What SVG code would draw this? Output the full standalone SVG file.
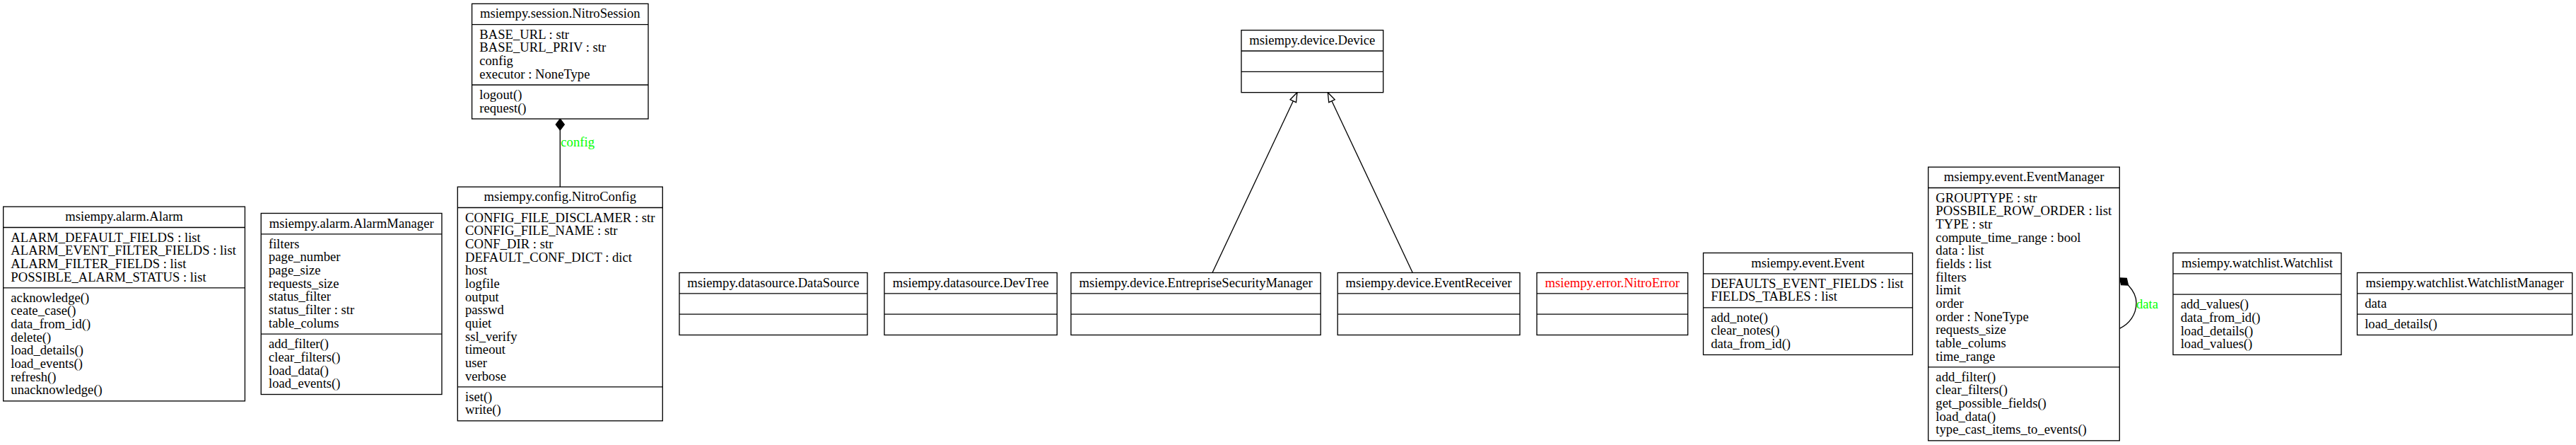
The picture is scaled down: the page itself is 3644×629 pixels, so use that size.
<svg xmlns="http://www.w3.org/2000/svg" width="3644" height="629" viewBox="0 0 3644 629">
<style>
.bg{fill:#ffffff}
.box{fill:#ffffff;stroke:#000000;stroke-width:1.33}
.div{stroke:#000000;stroke-width:1.33}
.t{font-family:"Liberation Serif","Times New Roman",serif;font-size:18.667px;fill:#000000}
.c{text-anchor:middle}
.red{fill:#ff0000}
.lbl{font-family:"Liberation Serif","Times New Roman",serif;font-size:18.667px;fill:#00ff00}
.edge{fill:none;stroke:#000000;stroke-width:1.33}
</style>
<defs>
<marker id="inh" markerUnits="userSpaceOnUse" markerWidth="16" markerHeight="12" refX="14" refY="5.67" orient="auto" overflow="visible">
<path d="M0.67,1 L14,5.67 L0.67,10.33 Z" fill="#ffffff" stroke="#000000" stroke-width="1.33"/>
</marker>
</defs>
<rect class="bg" x="0" y="0" width="3644" height="629"/>

<g id="connectors">
<path class="edge" d="M1715,385.5 L1835,130.67" marker-end="url(#inh)"/>
<path class="edge" d="M1998.3,385.5 L1878.3,130.67" marker-end="url(#inh)"/>
<path class="edge" d="M792.3,264.17 L792.3,184"/>
<path d="M792.3,168 L798.3,176 L792.3,184 L786.3,176 Z" fill="#000000" stroke="#000000" stroke-width="1.33"/>
<text class="lbl" x="793.3" y="206.5">config</text>
<path class="edge" d="M3010.5,403 C3017,410 3022,418 3022,428 C3022,445 3012,458 2998.3,464.3"/>
<path d="M2998.5,393 L3008.3,393.4 L3010.5,403 L3000.7,402.6 Z" fill="#000000" stroke="#000000" stroke-width="1.33"/>
<text class="lbl" x="3022" y="436">data</text>
</g>

<g id="alarm">
<rect class="box" x="4.67" y="292.17" width="341.8" height="274.67"/>
<line class="div" x1="4.67" y1="321.5" x2="346.47" y2="321.5"/>
<line class="div" x1="4.67" y1="406.83" x2="346.47" y2="406.83"/>
<text class="t c" x="175.57" y="312.17">msiempy.alarm.Alarm</text>
<text class="t" y="341.5"><tspan x="15.33">ALARM_DEFAULT_FIELDS : list</tspan><tspan x="15.33" dy="18.667">ALARM_EVENT_FILTER_FIELDS : list</tspan><tspan x="15.33" dy="18.667">ALARM_FILTER_FIELDS : list</tspan><tspan x="15.33" dy="18.667">POSSIBLE_ALARM_STATUS : list</tspan></text>
<text class="t" y="426.83"><tspan x="15.33">acknowledge()</tspan><tspan x="15.33" dy="18.667">ceate_case()</tspan><tspan x="15.33" dy="18.667">data_from_id()</tspan><tspan x="15.33" dy="18.667">delete()</tspan><tspan x="15.33" dy="18.667">load_details()</tspan><tspan x="15.33" dy="18.667">load_events()</tspan><tspan x="15.33" dy="18.667">refresh()</tspan><tspan x="15.33" dy="18.667">unacknowledge()</tspan></text>
</g>

<g id="alarmmanager">
<rect class="box" x="369.3" y="301.5" width="255.7" height="256"/>
<line class="div" x1="369.3" y1="330.83" x2="625" y2="330.83"/>
<line class="div" x1="369.3" y1="472.17" x2="625" y2="472.17"/>
<text class="t c" x="497.15" y="321.5">msiempy.alarm.AlarmManager</text>
<text class="t" y="350.83"><tspan x="379.97">filters</tspan><tspan x="379.97" dy="18.667">page_number</tspan><tspan x="379.97" dy="18.667">page_size</tspan><tspan x="379.97" dy="18.667">requests_size</tspan><tspan x="379.97" dy="18.667">status_filter</tspan><tspan x="379.97" dy="18.667">status_filter : str</tspan><tspan x="379.97" dy="18.667">table_colums</tspan></text>
<text class="t" y="492.17"><tspan x="379.97">add_filter()</tspan><tspan x="379.97" dy="18.667">clear_filters()</tspan><tspan x="379.97" dy="18.667">load_data()</tspan><tspan x="379.97" dy="18.667">load_events()</tspan></text>
</g>

<g id="nitrosession">
<rect class="box" x="667.6" y="5.33" width="249.4" height="162.67"/>
<line class="div" x1="667.6" y1="34.67" x2="917" y2="34.67"/>
<line class="div" x1="667.6" y1="120" x2="917" y2="120"/>
<text class="t c" x="792.3" y="25.33">msiempy.session.NitroSession</text>
<text class="t" y="54.67"><tspan x="678.27">BASE_URL : str</tspan><tspan x="678.27" dy="18.667">BASE_URL_PRIV : str</tspan><tspan x="678.27" dy="18.667">config</tspan><tspan x="678.27" dy="18.667">executor : NoneType</tspan></text>
<text class="t" y="140"><tspan x="678.27">logout()</tspan><tspan x="678.27" dy="18.667">request()</tspan></text>
</g>

<g id="nitroconfig">
<rect class="box" x="647.3" y="264.17" width="290" height="330.67"/>
<line class="div" x1="647.3" y1="293.5" x2="937.3" y2="293.5"/>
<line class="div" x1="647.3" y1="546.83" x2="937.3" y2="546.83"/>
<text class="t c" x="792.3" y="284.17">msiempy.config.NitroConfig</text>
<text class="t" y="313.5"><tspan x="657.97">CONFIG_FILE_DISCLAMER : str</tspan><tspan x="657.97" dy="18.667">CONFIG_FILE_NAME : str</tspan><tspan x="657.97" dy="18.667">CONF_DIR : str</tspan><tspan x="657.97" dy="18.667">DEFAULT_CONF_DICT : dict</tspan><tspan x="657.97" dy="18.667">host</tspan><tspan x="657.97" dy="18.667">logfile</tspan><tspan x="657.97" dy="18.667">output</tspan><tspan x="657.97" dy="18.667">passwd</tspan><tspan x="657.97" dy="18.667">quiet</tspan><tspan x="657.97" dy="18.667">ssl_verify</tspan><tspan x="657.97" dy="18.667">timeout</tspan><tspan x="657.97" dy="18.667">user</tspan><tspan x="657.97" dy="18.667">verbose</tspan></text>
<text class="t" y="566.83"><tspan x="657.97">iset()</tspan><tspan x="657.97" dy="18.667">write()</tspan></text>
</g>

<g id="datasource">
<rect class="box" x="961" y="385.5" width="266" height="88"/>
<line class="div" x1="961" y1="414.83" x2="1227" y2="414.83"/>
<line class="div" x1="961" y1="444.17" x2="1227" y2="444.17"/>
<text class="t c" x="1094" y="405.5">msiempy.datasource.DataSource</text>
</g>

<g id="devtree">
<rect class="box" x="1251" y="385.5" width="244.3" height="88"/>
<line class="div" x1="1251" y1="414.83" x2="1495.3" y2="414.83"/>
<line class="div" x1="1251" y1="444.17" x2="1495.3" y2="444.17"/>
<text class="t c" x="1373.15" y="405.5">msiempy.datasource.DevTree</text>
</g>

<g id="device">
<rect class="box" x="1756" y="42.67" width="200.7" height="88"/>
<line class="div" x1="1756" y1="72" x2="1956.7" y2="72"/>
<line class="div" x1="1756" y1="101.33" x2="1956.7" y2="101.33"/>
<text class="t c" x="1856.35" y="62.67">msiempy.device.Device</text>
</g>

<g id="esm">
<rect class="box" x="1515" y="385.5" width="353.2" height="88"/>
<line class="div" x1="1515" y1="414.83" x2="1868.2" y2="414.83"/>
<line class="div" x1="1515" y1="444.17" x2="1868.2" y2="444.17"/>
<text class="t c" x="1691.6" y="405.5">msiempy.device.EntrepriseSecurityManager</text>
</g>

<g id="eventreceiver">
<rect class="box" x="1892.2" y="385.5" width="257.8" height="88"/>
<line class="div" x1="1892.2" y1="414.83" x2="2150" y2="414.83"/>
<line class="div" x1="1892.2" y1="444.17" x2="2150" y2="444.17"/>
<text class="t c" x="2021.1" y="405.5">msiempy.device.EventReceiver</text>
</g>

<g id="nitroerror">
<rect class="box" x="2174" y="385.5" width="213.6" height="88"/>
<line class="div" x1="2174" y1="414.83" x2="2387.6" y2="414.83"/>
<line class="div" x1="2174" y1="444.17" x2="2387.6" y2="444.17"/>
<text class="t c red" x="2280.8" y="405.5">msiempy.error.NitroError</text>
</g>

<g id="event">
<rect class="box" x="2409.5" y="357.5" width="296" height="144"/>
<line class="div" x1="2409.5" y1="386.83" x2="2705.5" y2="386.83"/>
<line class="div" x1="2409.5" y1="434.83" x2="2705.5" y2="434.83"/>
<text class="t c" x="2557.5" y="377.5">msiempy.event.Event</text>
<text class="t" y="406.83"><tspan x="2420.17">DEFAULTS_EVENT_FIELDS : list</tspan><tspan x="2420.17" dy="18.667">FIELDS_TABLES : list</tspan></text>
<text class="t" y="454.83"><tspan x="2420.17">add_note()</tspan><tspan x="2420.17" dy="18.667">clear_notes()</tspan><tspan x="2420.17" dy="18.667">data_from_id()</tspan></text>
</g>

<g id="eventmanager">
<rect class="box" x="2727.7" y="236.17" width="270.6" height="386.67"/>
<line class="div" x1="2727.7" y1="265.5" x2="2998.3" y2="265.5"/>
<line class="div" x1="2727.7" y1="518.83" x2="2998.3" y2="518.83"/>
<text class="t c" x="2863" y="256.17">msiempy.event.EventManager</text>
<text class="t" y="285.5"><tspan x="2738.37">GROUPTYPE : str</tspan><tspan x="2738.37" dy="18.667">POSSBILE_ROW_ORDER : list</tspan><tspan x="2738.37" dy="18.667">TYPE : str</tspan><tspan x="2738.37" dy="18.667">compute_time_range : bool</tspan><tspan x="2738.37" dy="18.667">data : list</tspan><tspan x="2738.37" dy="18.667">fields : list</tspan><tspan x="2738.37" dy="18.667">filters</tspan><tspan x="2738.37" dy="18.667">limit</tspan><tspan x="2738.37" dy="18.667">order</tspan><tspan x="2738.37" dy="18.667">order : NoneType</tspan><tspan x="2738.37" dy="18.667">requests_size</tspan><tspan x="2738.37" dy="18.667">table_colums</tspan><tspan x="2738.37" dy="18.667">time_range</tspan></text>
<text class="t" y="538.83"><tspan x="2738.37">add_filter()</tspan><tspan x="2738.37" dy="18.667">clear_filters()</tspan><tspan x="2738.37" dy="18.667">get_possible_fields()</tspan><tspan x="2738.37" dy="18.667">load_data()</tspan><tspan x="2738.37" dy="18.667">type_cast_items_to_events()</tspan></text>
</g>

<g id="watchlist">
<rect class="box" x="3074" y="357.5" width="238" height="144"/>
<line class="div" x1="3074" y1="386.83" x2="3312" y2="386.83"/>
<line class="div" x1="3074" y1="416.17" x2="3312" y2="416.17"/>
<text class="t c" x="3193" y="377.5">msiempy.watchlist.Watchlist</text>
<text class="t" y="436.17"><tspan x="3084.67">add_values()</tspan><tspan x="3084.67" dy="18.667">data_from_id()</tspan><tspan x="3084.67" dy="18.667">load_details()</tspan><tspan x="3084.67" dy="18.667">load_values()</tspan></text>
</g>

<g id="watchlistmanager">
<rect class="box" x="3334.5" y="385.5" width="304.2" height="88"/>
<line class="div" x1="3334.5" y1="414.83" x2="3638.7" y2="414.83"/>
<line class="div" x1="3334.5" y1="444.17" x2="3638.7" y2="444.17"/>
<text class="t c" x="3486.6" y="405.5">msiempy.watchlist.WatchlistManager</text>
<text class="t" x="3345.17" y="434.83">data</text>
<text class="t" x="3345.17" y="464.17">load_details()</text>
</g>
</svg>
